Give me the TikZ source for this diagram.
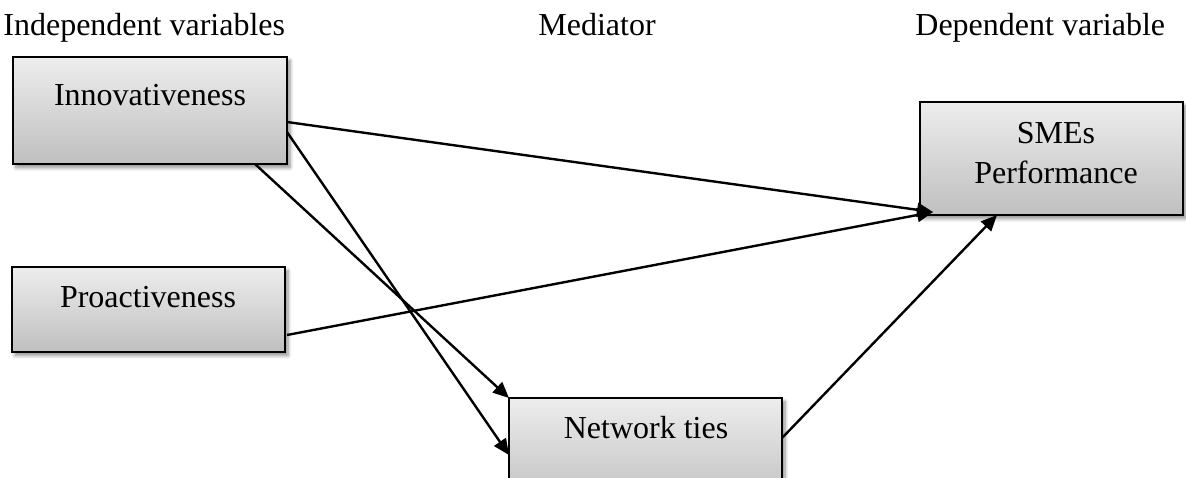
\documentclass[tikz,border=0pt]{standalone}
\usepackage{fontspec}
\setmainfont{Liberation Serif}
\usetikzlibrary{arrows.meta,shadows.blur}
\begin{document}
\begin{tikzpicture}[x=0.5pt,y=-0.5pt,
  box/.style={draw=black, line width=0.8pt, top color=gray!14, bottom color=gray!50,
    inner sep=0pt, outer sep=0pt,
    blur shadow={shadow xshift=1.5pt, shadow yshift=-1.8pt, shadow opacity=45, shadow blur steps=6}},
  lbl/.style={font=\fontsize{16}{19}\selectfont, inner sep=0pt, anchor=base},
  hdr/.style={lbl, anchor=base west},
  arr/.style={line width=1.2pt, -{Triangle[length=8pt,width=7pt]}}]
\clip (0,0) rectangle (1186,477);
% headers
\node[hdr] (h1) at (3,35) {Independent variables};
\node[hdr] (h2) at (538,35) {Mediator};
\node[hdr] (h3) at (915,35) {Dependent variable};
% boxes
\node[box, minimum width=137pt, minimum height=53.5pt] (inno) at (150,110.5) {};
\node[lbl] (innot) at (150,105) {Innovativeness};
\node[box, minimum width=136.5pt, minimum height=42.5pt] (pro) at (148.5,309.5) {};
\node[lbl] (prot) at (148,307) {Proactiveness};
\node[box, minimum width=136.5pt, minimum height=53.5pt] (net) at (645.5,451.5) {};
\node[lbl] (nett) at (646,438) {Network ties};
\node[box, minimum width=131.5pt, minimum height=56.5pt] (sme) at (1051.5,158.5) {};
\node[lbl] (smet1) at (1056,143) {SMEs};
\node[lbl] (smet2) at (1056,183) {Performance};
% connectors
\draw[arr] ([yshift=-5.75pt]inno.east) -- ([xshift=6.5pt,yshift=1.5pt]sme.south west);
\draw[arr] ([yshift=-10.75pt]inno.east) -- ([yshift=-1.75pt]net.west);
\draw[arr] ([xshift=52.5pt]inno.south) -- (net.north west);
\draw[arr] ([xshift=1pt,yshift=-12.75pt]pro.east) -- ([xshift=6.5pt,yshift=1.5pt]sme.south west);
\draw[arr] ([yshift=6.75pt]net.east) -- ([xshift=-27.25pt]sme.south);
\end{tikzpicture}
\end{document}
